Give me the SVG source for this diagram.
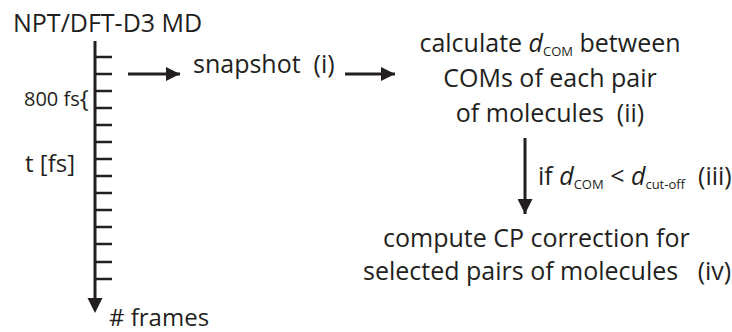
<svg xmlns="http://www.w3.org/2000/svg" width="732" height="332" viewBox="0 0 732 332">
<style>
text{font-family:"Open Sans","Liberation Sans",sans-serif;fill:#231f20;white-space:pre;}
.t{font-size:25px;}
.u{font-size:24px;}
.s{font-size:20px;}
.sub{font-size:13px;}
.it{font-style:italic;}
.ln{stroke:#231f20;stroke-width:3;fill:none;}
.tk{stroke:#231f20;stroke-width:2.5;}
</style>
<defs>
<marker id="ah" viewBox="0 0 10 10" refX="10" refY="5" markerWidth="14" markerHeight="14" markerUnits="userSpaceOnUse" orient="auto">
<path d="M0,0 L10,5 L0,10 Z" fill="#231f20"/>
</marker>
<marker id="ahv" viewBox="0 0 10 10" refX="10" refY="5" markerWidth="15" markerHeight="15" markerUnits="userSpaceOnUse" orient="auto">
<path d="M0,0 L10,5 L0,10 Z" fill="#231f20"/>
</marker>
</defs>
<g id="timeline">
<text class="t" x="13" y="32">NPT/DFT-D3 MD</text>
<line class="ln" x1="95" y1="41" x2="95" y2="300"/>
<path d="M87.5,298 L102.5,298 L95,313 Z" fill="#231f20"/>
<g class="tk">
<line x1="95" y1="57" x2="112" y2="57"/>
<line x1="95" y1="74" x2="112" y2="74"/>
<line x1="95" y1="91" x2="112" y2="91"/>
<line x1="95" y1="108" x2="112" y2="108"/>
<line x1="95" y1="125" x2="112" y2="125"/>
<line x1="95" y1="142" x2="112" y2="142"/>
<line x1="95" y1="159" x2="112" y2="159"/>
<line x1="95" y1="176" x2="112" y2="176"/>
<line x1="95" y1="193" x2="112" y2="193"/>
<line x1="95" y1="210" x2="112" y2="210"/>
<line x1="95" y1="227" x2="112" y2="227"/>
<line x1="95" y1="244" x2="112" y2="244"/>
<line x1="95" y1="262" x2="112" y2="262"/>
<line x1="95" y1="279" x2="112" y2="279"/>
</g>
<text class="s" x="24" y="106">800 fs<tspan font-size="24" dy="1">{</tspan></text>
<text class="u" x="25" y="172">t [fs]</text>
<text class="u" x="109" y="326"># frames</text>
</g>
<g id="snapshot">
<text class="t" x="193" y="73">snapshot  (i)</text>
</g>
<g id="calc">
<text class="t" x="550" y="52" text-anchor="middle">calculate <tspan class="it">d</tspan><tspan class="sub" dy="4">COM</tspan><tspan dy="-4"> between</tspan></text>
<text class="t" x="550" y="87" text-anchor="middle">COMs of each pair</text>
<text class="t" x="550" y="122" text-anchor="middle">of molecules  (ii)</text>
</g>
<g id="cond">
<text class="t" x="538" y="185">if <tspan class="it">d</tspan><tspan class="sub" dy="4">COM</tspan><tspan dy="-4"> &lt; </tspan><tspan class="it">d</tspan><tspan class="sub" dy="4">cut-off</tspan><tspan dy="-4">  (iii)</tspan></text>
</g>
<g id="cp">
<text class="t" x="383" y="247">compute CP correction for</text>
<text class="t" x="363" y="280">selected pairs of molecules   (iv)</text>
</g>
<g id="connectors">
<line class="ln" x1="128" y1="74" x2="180" y2="74" marker-end="url(#ah)"/>
<line class="ln" x1="345" y1="74" x2="395" y2="74" marker-end="url(#ah)"/>
<line class="ln" x1="525" y1="138" x2="525" y2="214" marker-end="url(#ahv)"/>
</g>
</svg>
